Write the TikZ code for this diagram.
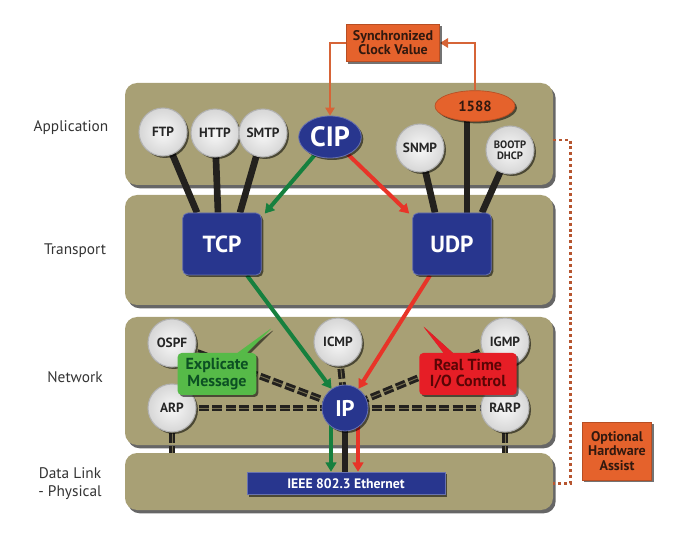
\documentclass[tikz,border=0pt]{standalone}
\usepackage{fontspec}
\setmainfont{PT Sans}
\usetikzlibrary{shapes.geometric,shapes.callouts,arrows.meta,shadows,calc}
\definecolor{layerfill}{RGB}{168,160,117}
\definecolor{bluebox}{RGB}{40,54,142}
\definecolor{orangebox}{RGB}{229,98,44}
\definecolor{orangeline}{RGB}{214,100,55}
\definecolor{arrowgreen}{RGB}{22,128,62}
\definecolor{arrowred}{RGB}{232,52,40}
\definecolor{calloutgreen}{RGB}{86,186,72}
\definecolor{calloutred}{RGB}{230,30,38}
\definecolor{darktext}{RGB}{50,25,15}
\definecolor{greentext}{RGB}{12,80,35}
\definecolor{redtext}{RGB}{90,5,5}
\definecolor{linkblack}{RGB}{35,33,30}
\pgfdeclarelayer{bg}\pgfdeclarelayer{lines}\pgfsetlayers{bg,lines,main}
\tikzset{
  shd/.style={drop shadow={shadow xshift=1.5pt,shadow yshift=-1.5pt,opacity=0.55,fill=black}},
  layerbox/.style={fill=layerfill,rounded corners=9pt,minimum width=321pt,inner sep=0pt,
     drop shadow={shadow xshift=2pt,shadow yshift=-2.5pt,opacity=0.75,fill=black!80}},
  gcirc/.style={circle,minimum size=36pt,inner sep=0pt,draw=gray!60,line width=0.8pt,
     inner color=gray!5,outer color=gray!32,text=black!85,font=\bfseries\fontsize{10}{11}\selectfont,shd},
  bfill/.style={fill=bluebox,draw=bluebox!70!white,line width=0.6pt,text=white},
  bbox/.style={bfill,rounded corners=4pt,minimum width=59pt,minimum height=46.5pt,
     font=\bfseries\fontsize{17.5}{18}\selectfont,shd},
  bcirc/.style={bfill,circle,minimum size=34.5pt,inner sep=0pt,font=\bfseries\fontsize{17}{18}\selectfont,shd},
  bell/.style={bfill,ellipse,minimum width=47pt,minimum height=31.5pt,inner sep=0pt,
     font=\bfseries\fontsize{21}{22}\selectfont,shd},
  oell/.style={ellipse,fill=orangebox,draw=orangebox!80!black,line width=0.5pt,minimum width=60pt,minimum height=23pt,
     inner sep=0pt,text=darktext,font=\bfseries\fontsize{11}{12}\selectfont,shd},
  obox/.style={rectangle,fill=orangebox,draw=orangebox!80!black,line width=0.5pt,text=darktext,align=center,
     inner sep=1pt,shd},
  eth/.style={bfill,rectangle,minimum width=148.5pt,minimum height=17pt,inner sep=0pt,
     font=\bfseries\fontsize{10.3}{11}\selectfont,shd},
  call/.style={rectangle callout,rounded corners=3pt,minimum height=31.5pt,inner sep=1pt,align=center,
     font=\bfseries\fontsize{12}{12.5}\selectfont,shd},
  lbl/.style={font=\fontsize{11.5}{13.5}\selectfont,text=black!80,align=center},
  blk/.style={draw=linkblack,line width=5pt},
  garrow/.style={draw=arrowgreen,line width=3pt,-{Triangle[length=7pt,width=8pt]}},
  rarrow/.style={draw=arrowred,line width=3pt,-{Triangle[length=7pt,width=8pt]}},
  dd/.style={draw=linkblack,line width=2.2pt,double=layerfill!70!black,double distance=0.7pt,dash pattern=on 7.5pt off 2.6pt},
  oline/.style={draw=orangeline,line width=1.6pt},
  oarrow/.style={oline,-{Triangle[length=6pt,width=7pt]}},
  odot/.style={draw=orangeline!85!black,line width=2pt,dash pattern=on 2.2pt off 2.2pt}
}
\begin{document}
\begin{tikzpicture}[x=0.75pt,y=-0.75pt]
\useasboundingbox (0,0) rectangle (687,542);
\begin{pgfonlayer}{bg}
\node[layerbox,minimum height=76.5pt] (App) at (339,134) {};
\node[layerbox,minimum height=82.5pt] (Trans) at (339,250) {};
\node[layerbox,minimum height=96pt] (Net) at (339,381) {};
\node[layerbox,minimum height=42.75pt] (DL) at (339,481.5) {};
\end{pgfonlayer}
% left labels
\node[lbl] (LApp) at (71,128) {Application};
\node[lbl] (LTr) at (75,251) {Transport};
\node[lbl] (LNet) at (75,377) {Network};
\node[lbl] (LDL) at (70,484) {Data Link\\- Physical};
% application
\node[gcirc] (FTP) at (163,132) {FTP};
\node[gcirc] (HTTP) at (215,133) {HTTP};
\node[gcirc] (SMTP) at (263,133) {SMTP};
\node[bell] (CIP) at (330,137) {CIP};
\node[gcirc] (SNMP) at (420,148) {SNMP};
\node[oell] (P1588) at (475,106) {1588};
\node[gcirc,align=center,font=\bfseries\fontsize{8}{8.5}\selectfont] (BOOT) at (510,150) {BOOTP\\DHCP};
\node[obox,minimum width=70pt,minimum height=28pt,font=\bfseries\fontsize{10.5}{10.5}\selectfont] (Sync) at (393,43) {Synchronized\\Clock Value};
% transport
\node[bbox] (TCP) at (222,244) {TCP};
\node[bbox] (UDP) at (452,244) {UDP};
% network
\node[gcirc] (OSPF) at (172,343) {OSPF};
\node[gcirc] (ICMP) at (338,342) {ICMP};
\node[gcirc] (IGMP) at (505,342) {IGMP};
\node[gcirc] (ARP) at (172,408) {ARP};
\node[gcirc] (RARP) at (505,408) {RARP};
\node[bcirc] (IP) at (345,408) {IP};
\node[call,fill=calloutgreen,text=greentext,minimum width=59pt,callout absolute pointer={(273,327)}] (Expl) at (217,374) {Explicate\\Message};
\node[call,fill=calloutred,text=redtext,minimum width=73pt,callout absolute pointer={(422,325)}] (RT) at (468,374) {Real Time\\I/O Control};
% data link
\node[eth] (Eth) at (346,483.5) {IEEE 802.3 Ethernet};
\node[obox,minimum width=52pt,minimum height=43.5pt,font=\bfseries\fontsize{10.5}{11}\selectfont] (OHA) at (617,451) {Optional\\Hardware\\Assist};
\begin{pgfonlayer}{lines}
% app -> transport black links
\draw[blk] (FTP.center) -- ($(TCP.north)+(-25,0)$);
\draw[blk] (HTTP.center) -- ($(TCP.north)+(-4,0)$);
\draw[blk] (SMTP.center) -- ($(TCP.north)+(18,0)$);
\draw[blk] (SNMP.center) -- ($(UDP.north)+(-17,0)$);
\draw[blk] ($(P1588.center)+(-8,0)$) -- ($(UDP.north)+(15,0)$);
\draw[blk] (BOOT.center) -- ($(UDP.north)+(30,0)$);
% CIP arrows
\draw[garrow] (CIP.center) -- ($(TCP.north east)+(3,1)$);
\draw[rarrow] (CIP.center) -- ($(UDP.north west)+(-3,1)$);
% transport -> IP
\draw[garrow] ($(TCP.south)+(25,0)$) -- (IP.125);
\draw[rarrow] ($(UDP.south)+(-22,0)$) -- (IP.55);
% network dashed links
\draw[dd] (ARP.center) -- (IP.center);
\draw[dd] (IP.center) -- (RARP.center);
\draw[dd] (OSPF.center) -- (IP.center);
\draw[dd] (IGMP.center) -- (IP.center);
\draw[dd] (ICMP.center) -- (IP.center);
\draw[dd] (ARP.south) -- (ARP.south |- DL.north);
\draw[dd] (RARP.south) -- (RARP.south |- DL.north);
% IP -> Ethernet
\draw[garrow] ($(IP.center)+(-14,0)$) -- ($(Eth.north)+(-15,0)$);
\draw[blk] (IP.center) -- (IP.center |- Eth.north);
\draw[rarrow] ($(IP.center)+(13,0)$) -- ($(Eth.north)+(12,0)$);
% orange clock links
\draw[oarrow] (P1588.north) |- (Sync.east);
\draw[oarrow] (Sync.west) -| (CIP.north);
% hardware assist bracket
\draw[odot] ($(App.east)+(0,6)$) -- ++(17,0) |- ($(DL.east)+(0,2)$);
\end{pgfonlayer}
\end{tikzpicture}
\end{document}
